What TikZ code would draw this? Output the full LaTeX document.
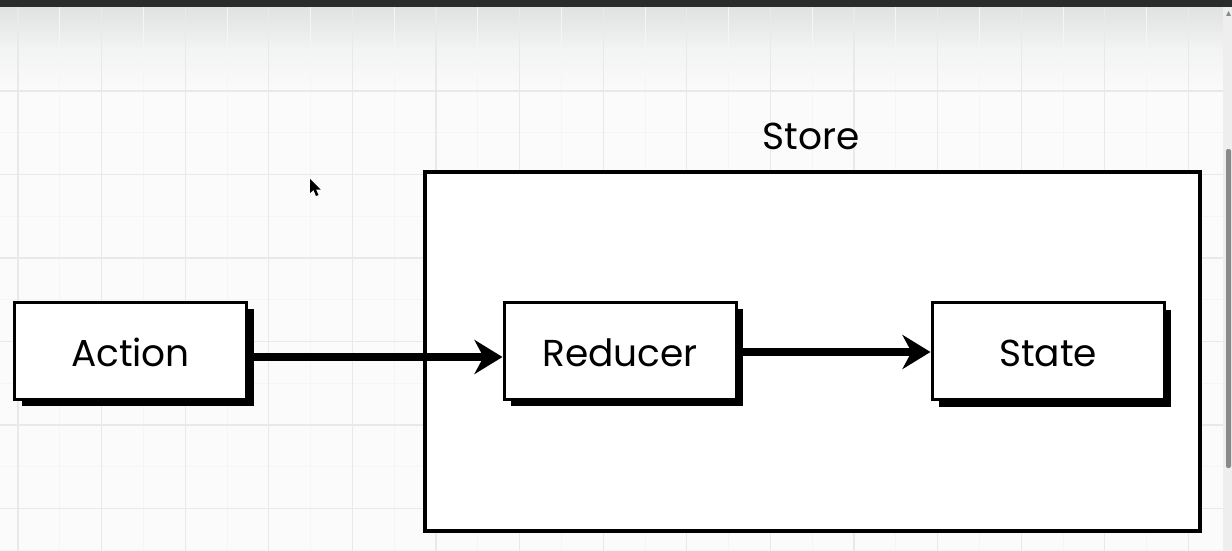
\documentclass[tikz,border=0pt]{standalone}
\usepackage{fontspec}
\setmainfont{Poppins}
\usetikzlibrary{arrows.meta,shadows}

\definecolor{canvasbg}{HTML}{FAFBFA}
\definecolor{gridmajor}{HTML}{E8EAE9}
\definecolor{gridminor}{HTML}{F4F5F4}
\definecolor{topbar}{HTML}{2A2C2C}
\definecolor{topfade}{HTML}{E0E2E2}
\definecolor{scrolltrack}{HTML}{EEEEEE}
\definecolor{scrollthumb}{HTML}{8A8A8A}

\begin{document}
\begin{tikzpicture}[x=1pt,y=-1pt,
  labelfont/.style={font=\fontsize{37.5}{42}\selectfont},
  sketchbox/.style={draw=black, line width=3pt, fill=white,
    minimum width=232pt, minimum height=97pt, inner sep=0pt,
    text height=31pt, text depth=0pt, labelfont,
    drop shadow={shadow xshift=7pt, shadow yshift=-7pt, opacity=1, fill=black}},
  container/.style={draw=black, line width=3.5pt, fill=white, inner sep=0pt},
  flow/.style={line width=8pt, -{Stealth[length=28pt, width=34pt, inset=9pt]}},
]
\useasboundingbox (0,0) rectangle (1232,551);

% canvas and grid
\fill[canvasbg] (0,0) rectangle (1232,551);
\shade[top color=topfade, bottom color=canvasbg, middle color=canvasbg!70!topfade]
  (0,7) rectangle (1232,92);
\foreach \i in {0,...,14} {
  \draw[gridminor, line width=1pt] ({18+41.8+83.6*\i},7) -- ({18+41.8+83.6*\i},551);
}
\foreach \j in {-1,...,5} {
  \draw[gridminor, line width=1pt] (0,{91+41.75+83.5*\j}) -- (1232,{91+41.75+83.5*\j});
}
\foreach \i in {0,...,14} {
  \draw[gridmajor, line width=1.2pt] ({18+83.6*\i},7) -- ({18+83.6*\i},551);
}
\foreach \j in {0,...,5} {
  \draw[gridmajor, line width=1.2pt] (0,{91+83.5*\j}) -- (1232,{91+83.5*\j});
}

% window chrome
\fill[topbar] (0,0) rectangle (1232,7);
\fill[scrolltrack] (1223,7) rectangle (1232,551);
\fill[scrollthumb, rounded corners=2pt] (1226,149) rectangle (1231,468);
\fill[scrollthumb] (1228.5,11) -- (1231,16) -- (1226,16) -- cycle;

% store container
\node[container, minimum width=775pt, minimum height=359pt] (store) at (812.5,351.5) {};
\node[labelfont, anchor=base] (storelabel) at (811,149) {Store};

% blocks
\node[sketchbox] (act) at (130.5,350.5) {Action};
\node[sketchbox] (red) at (620,350.5) {Reducer};
\node[sketchbox] (st)  at (1048,351)  {State};

% data flow
\draw[flow] ([yshift=-6.5pt]act.east) -- ([yshift=-6.5pt]red.west);
\draw[flow] ([yshift=-1.5pt]red.east) -- ([yshift=-1pt]st.west);

% mouse pointer
\fill[black] (310,179) -- (310,193) -- (313.5,190) -- (316,196) -- (318.5,195)
  -- (316,189.5) -- (320.5,189.5) -- cycle;
\end{tikzpicture}
\end{document}
